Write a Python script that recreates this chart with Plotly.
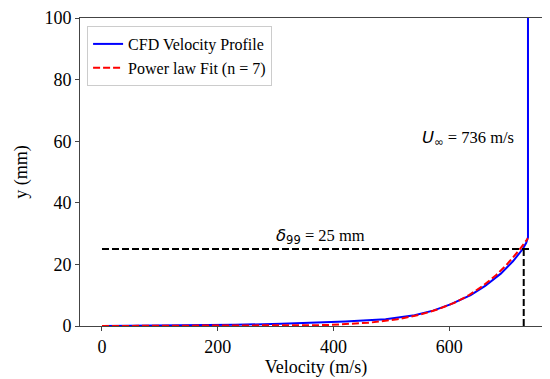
import plotly.graph_objects as go
import numpy as np

# CFD velocity profile
cfd_y = [0, 0.1, 0.2, 0.4, 0.7, 1.0, 1.5, 2.2, 3.5, 5.0, 7.0, 10.0, 13.0, 17.0, 21.0, 25.0, 27.0, 28.8, 100.0]
cfd_u = [0, 90, 150, 230, 310, 360, 420, 490, 540, 572, 602, 637, 662, 689, 710, 727, 733, 736, 736]

# Power-law fit parameters
U_inf = 736.0
n_exp = 7
delta_fit = 28.5
fit_y = list(np.linspace(0, delta_fit, 300))
fit_u = [U_inf * (yy / delta_fit) ** (1.0 / n_exp) for yy in fit_y]

# delta_99 markers
delta99 = 25.0
u99 = 0.99 * U_inf
hline_x = [0, 740]
vline_y = [0, delta99]

serif = "Liberation Serif, Times New Roman, serif"
dash_style = "7px,3px"

fig = go.Figure()
fig.add_trace(go.Scatter(x=cfd_u, y=cfd_y, mode="lines", name="CFD Velocity Profile",
                         line=dict(color="#0000ff", width=2)))
fig.add_trace(go.Scatter(x=fit_u, y=fit_y, mode="lines", name="Power law Fit (n = 7)",
                         line=dict(color="#ff0000", width=2, dash=dash_style)))
fig.add_trace(go.Scatter(x=hline_x, y=[delta99, delta99], mode="lines", showlegend=False,
                         line=dict(color="black", width=2, dash=dash_style)))
fig.add_trace(go.Scatter(x=[u99, u99], y=vline_y, mode="lines", showlegend=False,
                         line=dict(color="black", width=2, dash=dash_style)))

fig.add_annotation(x=716, y=61, xanchor="right",
                   text="<span style='font-family:DejaVu Sans'><i>U</i><sub>∞</sub></span> = 736 m/s",
                   showarrow=False, font=dict(family=serif, size=16.5, color="black"))
fig.add_annotation(x=377, y=28.9,
                   text="<span style='font-family:DejaVu Sans'><i>δ</i><sub>99</sub></span> = 25 mm",
                   showarrow=False, font=dict(family=serif, size=16.5, color="black"))

axis_common = dict(showline=True, linecolor="#444", linewidth=1, mirror=True, ticks="outside",
                   ticklen=4, tickcolor="#444", showgrid=False, zeroline=False, automargin=False,
                   ticklabeloverflow="allow",
                   tickfont=dict(family=serif, size=18, color="black"))
fig.update_xaxes(range=[-38, 777.5], tickvals=[0, 200, 400, 600],
                 title=dict(text="Velocity (m/s)", font=dict(family=serif, size=18, color="black"), standoff=4),
                 **axis_common)
fig.update_yaxes(range=[0, 100], tickvals=[0, 20, 40, 60, 80, 100],
                 title=dict(text="y (mm)", font=dict(family=serif, size=18, color="black"), standoff=12),
                 **axis_common)

fig.update_layout(width=550, height=379, margin=dict(l=72, r=6, t=10, b=61),
                  plot_bgcolor="white", paper_bgcolor="white",
                  legend=dict(x=0.015, y=0.974, xanchor="left", yanchor="top",
                              font=dict(family=serif, size=16, color="black"),
                              bgcolor="rgba(255,255,255,0.8)", bordercolor="#cccccc", borderwidth=1))

fig.write_html("out.html")
